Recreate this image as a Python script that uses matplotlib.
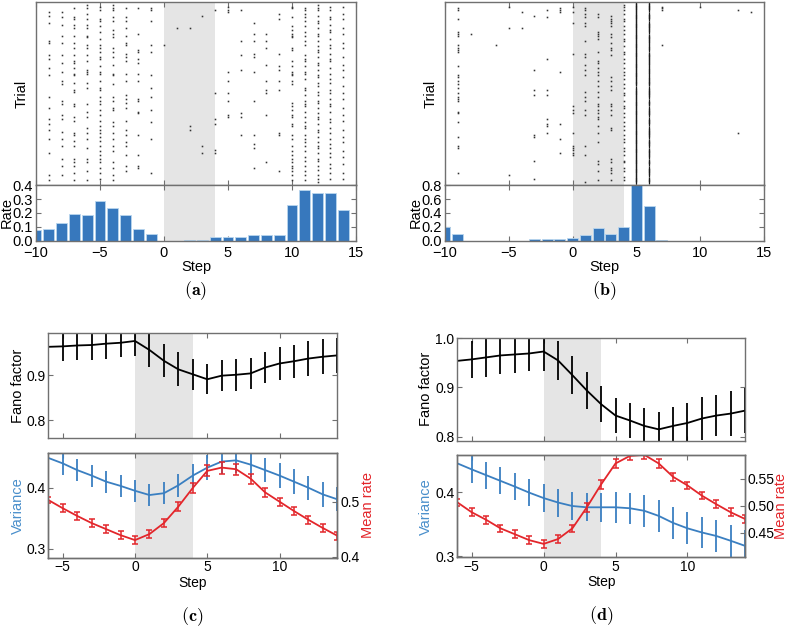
import matplotlib
matplotlib.use("Agg")
import matplotlib.pyplot as plt
import numpy as np
from matplotlib.ticker import FormatStrFormatter

plt.rcParams['font.family'] = ['Liberation Sans', 'DejaVu Sans']
plt.rcParams['mathtext.fontset'] = 'cm'

# ---- data: panels (a) and (b), raster + rate histogram ----
steps_ab = list(range(-10, 15))

rate_a = [0.076, 0.088, 0.131, 0.195, 0.188, 0.288, 0.236, 0.186, 0.086, 0.052,
          0.0, 0.0, 0.007, 0.007, 0.026, 0.031, 0.029, 0.040, 0.045, 0.045,
          0.255, 0.364, 0.343, 0.343, 0.219]
rate_b = [0.207, 0.099, 0.0, 0.0, 0.0, 0.0, 0.003, 0.024, 0.028, 0.028,
          0.042, 0.085, 0.179, 0.104, 0.207, 0.80, 0.503, 0.010,
          0.0, 0.0, 0.0, 0.0, 0.0, 0.002, 0.0]

# spike trials (row from top, out of 100) per step
spikes_a = {
    -9: [5, 7, 11, 21, 22, 29, 31, 36, 40, 52, 58, 64, 67, 70, 75, 83, 95, 98],
    -8: [5, 8, 12, 18, 22, 29, 33, 38, 43, 45, 54, 56, 62, 64, 71, 75, 79, 86, 90, 95],
    -7: [3, 8, 9, 12, 14, 18, 22, 25, 29, 32, 33, 36, 39, 40, 44, 48, 49, 56, 57, 63,
         65, 72, 73, 76, 79, 86, 88, 90, 94, 98],
    -6: [1, 3, 6, 9, 12, 14, 18, 19, 23, 25, 29, 32, 37, 38, 39, 44, 47, 56, 60, 63,
         69, 72, 75, 80, 86, 88, 93, 98],
    -5: [2, 4, 9, 10, 13, 16, 20, 23, 25, 27, 30, 31, 35, 38, 39, 43, 47, 48, 52, 54,
         56, 59, 62, 65, 68, 70, 72, 74, 76, 79, 82, 84, 86, 88, 91, 94, 97],
    -4: [1, 3, 4, 8, 10, 15, 17, 19, 25, 27, 30, 34, 39, 40, 45, 52, 54, 58, 59, 66,
         68, 72, 75, 79, 82, 88, 91, 95, 98],
    -3: [3, 8, 10, 14, 18, 22, 23, 28, 30, 32, 39, 43, 51, 53, 55, 58, 65, 70, 73, 77,
         79, 84, 90, 93],
    -2: [3, 17, 26, 27, 31, 33, 39, 43, 53, 54, 60, 61, 73, 84, 90, 91],
    -1: [3, 4, 10, 23, 27, 40, 47, 52, 59, 66, 75, 94],
    0: [23],
    1: [14],
    2: [14, 68, 70],
    3: [7, 79, 83],
    4: [4, 50, 64, 67, 81, 83],
    5: [2, 4, 5, 38, 43, 50, 54, 62, 63],
    6: [4, 21, 29, 37, 61, 63, 73],
    7: [11, 17, 21, 28, 30, 38, 54, 73, 78, 80, 91],
    8: [17, 21, 25, 34, 43, 48, 50, 62, 88],
    9: [6, 9, 28, 35, 37, 43, 48, 72, 73, 93],
    10: [2, 3, 8, 13, 15, 17, 18, 19, 25, 26, 32, 35, 38, 39, 40, 43, 45, 55, 57, 59,
         62, 63, 67, 68, 73, 75, 79, 82, 84, 86, 88, 90, 91, 93, 95, 98],
    11: [3, 4, 6, 8, 10, 13, 16, 18, 21, 23, 29, 31, 32, 35, 38, 39, 42, 47, 48, 51,
         54, 56, 57, 60, 63, 66, 68, 69, 73, 75, 77, 79, 82, 85, 87, 90, 93, 95, 98],
    12: [1, 3, 4, 7, 10, 11, 14, 17, 18, 21, 24, 26, 27, 30, 33, 34, 37, 40, 41, 44,
         46, 49, 51, 54, 55, 58, 61, 63, 64, 67, 70, 71, 74, 77, 79, 80, 83, 86, 87, 90,
         92, 95, 97, 99],
    13: [2, 4, 8, 9, 12, 15, 16, 20, 23, 25, 28, 31, 32, 36, 39, 42, 44, 48, 50, 53,
         56, 57, 60, 64, 66, 69, 72, 75, 78, 80, 83, 85, 89, 91, 94, 97],
    14: [2, 6, 9, 14, 17, 22, 25, 30, 34, 37, 41, 46, 50, 53, 58, 62, 65, 70, 74, 77,
         82, 85, 89, 94, 97],
}
spikes_b = {
    -9: [3, 4, 9, 16, 17, 18, 23, 25, 26, 27, 35, 40, 41, 43, 45, 47, 50, 52, 53, 54,
         60, 61, 66, 74, 79, 80, 94],
    -8: [17],
    -6: [23],
    -5: [2, 14, 95],
    -4: [5, 14],
    -3: [7, 37, 48, 51, 73, 74, 87, 97],
    -2: [4, 8, 31, 48, 51, 64, 67, 68, 72],
    -1: [3, 4, 5, 38, 67, 75, 83],
    0: [2, 5, 11, 28, 57, 59, 61, 72, 79, 80, 81, 83, 84],
    1: [3, 4, 6, 8, 11, 13, 21, 28, 30, 34, 37, 40, 49, 52, 54, 59, 62, 79, 84, 99],
    2: [6, 8, 16, 17, 18, 20, 27, 32, 33, 36, 38, 40, 43, 46, 49, 52, 56, 57, 59, 61,
        63, 64, 68, 72, 77, 87, 89, 93, 98],
    3: [7, 9, 10, 11, 13, 17, 19, 22, 25, 26, 29, 41, 43, 46, 48, 56, 57, 59, 62, 69,
        70, 86, 88, 91, 92, 94, 98],
    4: [1, 2, 4, 6, 9, 10, 13, 15, 17, 20, 21, 24, 27, 28, 31, 33, 36, 38, 40, 42,
        45, 47, 50, 51, 54, 57, 58, 61, 63, 66, 68, 70, 73, 75, 77, 80, 82, 84, 87, 88,
        91, 93, 96, 98],
    7: [2, 3, 4, 23],
    10: [2],
    13: [4, 72],
    14: [5],
}
# near-solid columns in (b), one character per trial ('#' = spike)
dense_b = {
    5: "##############################################.#####################################################",
    6: "#####.####.######.#####.###.#######.####.#####.######.###.#####.####.######.####.#####.###.#####.###",
}

# ---- data: panels (c) and (d) ----
steps_cd = list(range(-6, 15))

fano_c = [0.963, 0.964, 0.966, 0.967, 0.970, 0.972, 0.976, 0.956, 0.932, 0.913, 0.902,
          0.891, 0.899, 0.901, 0.904, 0.917, 0.926, 0.931, 0.937, 0.941, 0.944]
fano_c_err = [0.032, 0.032, 0.033, 0.033, 0.033, 0.031, 0.034, 0.037, 0.037, 0.038, 0.034,
              0.033, 0.034, 0.035, 0.035, 0.034, 0.036, 0.037, 0.038, 0.039, 0.038]
var_c = [0.449, 0.440, 0.429, 0.420, 0.410, 0.403, 0.395, 0.388, 0.391, 0.404, 0.420,
         0.433, 0.443, 0.445, 0.438, 0.429, 0.420, 0.410, 0.400, 0.389, 0.381]
var_c_err = [0.019, 0.019, 0.018, 0.018, 0.018, 0.018, 0.018, 0.018, 0.018, 0.019, 0.019,
             0.020, 0.020, 0.020, 0.020, 0.020, 0.020, 0.020, 0.020, 0.020, 0.020]
mrate_c = [0.503, 0.488, 0.474, 0.461, 0.450, 0.439, 0.430, 0.441, 0.461, 0.491, 0.525,
           0.556, 0.562, 0.559, 0.542, 0.517, 0.500, 0.483, 0.467, 0.452, 0.438]
mrate_c_err = [0.006, 0.007, 0.007, 0.007, 0.007, 0.007, 0.007, 0.007, 0.007, 0.008, 0.009,
               0.010, 0.011, 0.010, 0.009, 0.008, 0.007, 0.007, 0.007, 0.007, 0.007]

fano_d = [0.954, 0.957, 0.961, 0.965, 0.967, 0.969, 0.973, 0.955, 0.925, 0.894, 0.866,
          0.843, 0.833, 0.822, 0.815, 0.822, 0.828, 0.837, 0.843, 0.847, 0.853]
fano_d_err = [0.038, 0.038, 0.039, 0.038, 0.037, 0.036, 0.040, 0.039, 0.038, 0.037, 0.036,
              0.035, 0.035, 0.036, 0.036, 0.039, 0.040, 0.043, 0.042, 0.045, 0.045]
var_d = [0.4455, 0.436, 0.427, 0.418, 0.409, 0.3995, 0.391, 0.384, 0.3785, 0.3765, 0.3765,
         0.3765, 0.375, 0.371, 0.363, 0.352, 0.3435, 0.337, 0.3315, 0.324, 0.316]
var_d_err = [0.021, 0.021, 0.021, 0.021, 0.021, 0.021, 0.022, 0.022, 0.022, 0.022, 0.023,
             0.024, 0.024, 0.025, 0.025, 0.025, 0.025, 0.025, 0.025, 0.025, 0.025]
mrate_d = [0.5065, 0.488, 0.474, 0.458, 0.447, 0.436, 0.429, 0.438, 0.458, 0.497, 0.540,
           0.579, 0.593, 0.595, 0.579, 0.554, 0.538, 0.519, 0.503, 0.488, 0.4755]
mrate_d_err = [0.007, 0.007, 0.007, 0.007, 0.007, 0.007, 0.007, 0.007, 0.007, 0.008, 0.008,
               0.008, 0.008, 0.008, 0.008, 0.008, 0.007, 0.007, 0.007, 0.007, 0.007]

BLUE = '#3a7fc1'
RED = '#e3262b'
SHADE = '#e5e5e5'
SPINE = '#707070'
W, H = 788.0, 627.0


def style(ax, fs=10):
    for s in ax.spines.values():
        s.set_color(SPINE)
        s.set_linewidth(1.0)
    ax.tick_params(direction='in', top=True, right=True, length=3.5, width=0.8,
                   color=SPINE, labelcolor='k', labelsize=fs, pad=2)


def raster_panel(fig, left_px, right_px, spikes, dense, rates, rmax, rticks):
    left, width = left_px / W, (right_px - left_px) / W
    wpx = right_px - left_px
    ax = fig.add_axes([left, 1 - 185 / H, width, 183 / H])
    ax.axvspan(0, 4, color=SHADE, lw=0, zorder=0)
    for s, rows in spikes.items():
        ax.plot([s] * len(rows), rows, ls='none', marker='s', ms=1.15, mew=0, color='0.2')
    for s, pat in dense.items():
        rows = [i for i, c in enumerate(pat) if c == '#']
        ax.plot([s] * len(rows), rows, ls='none', marker='|', ms=2.2, mew=0.9, color='0.1')
    ax.set_xlim(-10, 15)
    ax.set_ylim(100.5, -0.5)
    ax.set_xticks([-10, -5, 0, 5, 10, 15])
    ax.set_xticklabels([])
    ax.set_yticks([])
    ax.set_ylabel('Trial', fontsize=10.5)
    ax.yaxis.set_label_coords(-7 / wpx, 0.5)
    style(ax)

    axr = fig.add_axes([left, 1 - 241 / H, width, 56 / H])
    axr.axvspan(0, 4, color=SHADE, lw=0, zorder=0)
    axr.bar(steps_ab, rates, width=0.85, color='#3778bd', edgecolor='#b9d6ee', lw=0.6, zorder=2)
    axr.set_xlim(-10, 15)
    axr.set_ylim(0, rmax)
    axr.set_xticks([-10, -5, 0, 5, 10, 15])
    axr.set_yticks(rticks)
    axr.yaxis.set_major_formatter(FormatStrFormatter('%.1f'))
    axr.set_xlabel('Step', fontsize=10.5)
    axr.xaxis.set_label_coords(0.5, -17 / 56 - 0.03)
    axr.set_ylabel('Rate', fontsize=10.5)
    axr.yaxis.set_label_coords(-22 / wpx, 0.5)
    style(axr, 10.5)
    axr.tick_params(axis='x', pad=3.5)


def fano_panel(fig, left_px, right_px, top_box, bot_box, fano, fano_err, fticks, flim,
               var, var_err, vlim, mr, mr_err, mlim, mticks, mfmt, llab_x, mlab_x):
    left, width = left_px / W, (right_px - left_px) / W
    wpx = right_px - left_px
    ax = fig.add_axes([left, 1 - top_box[1] / H, width, (top_box[1] - top_box[0]) / H])
    ax.axvspan(0, 4, color=SHADE, lw=0, zorder=0)
    ax.errorbar(steps_cd, fano, yerr=fano_err, color='k', lw=1.3, elinewidth=1.3, capsize=0)
    ax.set_xlim(-6, 14)
    ax.set_ylim(*flim)
    ax.set_xticks([-5, 0, 5, 10])
    ax.set_xticklabels([])
    ax.set_yticks(fticks)
    ax.yaxis.set_major_formatter(FormatStrFormatter('%.1f'))
    ax.set_ylabel('Fano factor', fontsize=10.5)
    ax.yaxis.set_label_coords((llab_x - left_px) / wpx, 0.5)
    style(ax)

    hb = bot_box[1] - bot_box[0]
    axb = fig.add_axes([left, 1 - bot_box[1] / H, width, hb / H])
    axb.axvspan(0, 4, color=SHADE, lw=0, zorder=0)
    axb.errorbar(steps_cd, var, yerr=var_err, color=BLUE, lw=1.3, elinewidth=1.3, capsize=0)
    axb.set_xlim(-6, 14)
    axb.set_ylim(*vlim)
    axb.set_xticks([-5, 0, 5, 10])
    axb.set_yticks([0.3, 0.4])
    axb.yaxis.set_major_formatter(FormatStrFormatter('%.1f'))
    axb.set_xlabel('Step', fontsize=10)
    axb.xaxis.set_label_coords(0.5, -18 / hb)
    axb.set_ylabel('Variance', fontsize=10.5, color='#4a8fcb')
    axb.yaxis.set_label_coords((llab_x - left_px) / wpx, 0.5)
    style(axb)
    axb.tick_params(right=False)

    ax2 = axb.twinx()
    ax2.errorbar(steps_cd, mr, yerr=mr_err, color=RED, lw=1.3, elinewidth=1.1, capsize=2,
                 capthick=1.1)
    ax2.set_ylim(*mlim)
    ax2.set_yticks(mticks)
    ax2.yaxis.set_major_formatter(FormatStrFormatter(mfmt))
    ax2.set_ylabel('Mean rate', fontsize=10.5, color=RED)
    ax2.yaxis.set_label_coords((mlab_x - left_px) / wpx, 0.5)
    style(ax2)
    ax2.tick_params(left=False, top=False)


fig = plt.figure(figsize=(7.88, 6.27), dpi=100)

raster_panel(fig, 36, 356, spikes_a, {}, rate_a, 0.4, [0.0, 0.1, 0.2, 0.3, 0.4])
raster_panel(fig, 445, 764, spikes_b, dense_b, rate_b, 0.8, [0.0, 0.2, 0.4, 0.6, 0.8])

fano_panel(fig, 48.3, 337.3, (333.3, 438.3), (453.3, 557.7),
           fano_c, fano_c_err, [0.8, 0.9], (0.76, 0.993),
           var_c, var_c_err, (0.285, 0.4566),
           mrate_c, mrate_c_err, (0.398, 0.588), [0.4, 0.5], '%.1f', 25, 361)
fano_panel(fig, 457.3, 745, (337.7, 440.7), (455, 557.3),
           fano_d, fano_d_err, [0.8, 0.9, 1.0], (0.792, 1.001),
           var_d, var_d_err, (0.298, 0.4586),
           mrate_d, mrate_d_err, (0.404, 0.5947), [0.45, 0.50, 0.55], '%.2f', 433, 774)

for x, y, lab in [(196, 291, 'a'), (604.5, 291, 'b'), (192.5, 617, 'c'), (601, 616, 'd')]:
    fig.text(x / W, 1 - y / H, r'$\mathbf{(' + lab + ')}$', ha='center', va='center',
             fontsize=13)

fig.savefig('out.png', dpi=100)
